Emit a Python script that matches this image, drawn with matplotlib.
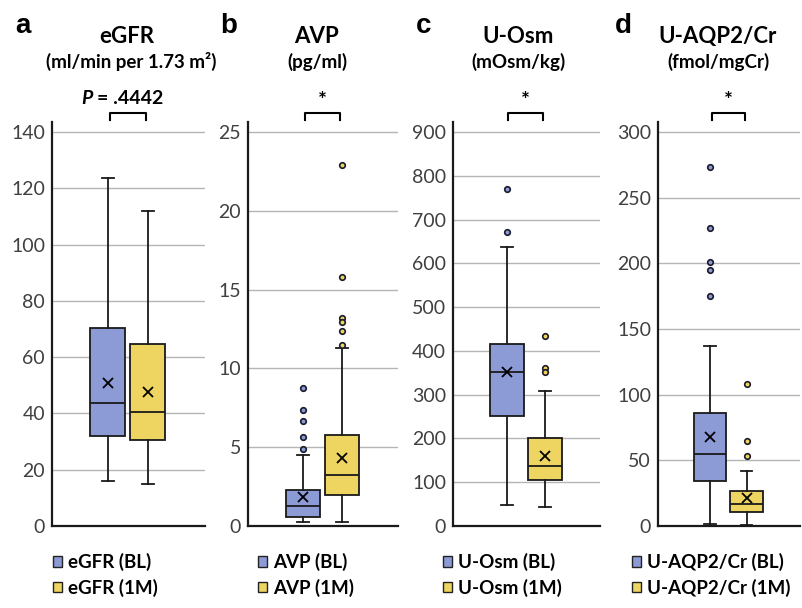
import matplotlib
matplotlib.use('Agg')
import matplotlib.pyplot as plt
from matplotlib.patches import Patch

# ── data ──────────────────────────────────────────────────────────────────────
names = ['eGFR', 'AVP', 'U-Osm', 'U-AQP2/Cr']
units = ['(ml/min per 1.73 m²)', '(pg/ml)', '(mOsm/kg)', '(fmol/mgCr)']
letters = ['a', 'b', 'c', 'd']
sig = ['P = .4442', '*', '*', '*']
ymax = [140, 25, 900, 300]
ystep = [20, 5, 100, 50]

# baseline (BL)
bl_lo = [16.1, 0.28, 49, 1.8]
bl_q1 = [32.1, 0.55, 251, 34.0]
bl_med = [43.8, 1.27, 352, 54.6]
bl_q3 = [70.4, 2.27, 415, 85.9]
bl_hi = [123.5, 4.49, 638, 137.4]
bl_mean = [50.7, 1.82, 352, 68.0]
bl_out = [[], [8.78, 7.39, 6.67, 5.67, 4.87], [769, 672], [273, 227, 201, 195, 175]]

# one month (1M)
m1_lo = [15.1, 0.28, 44, 1.0]
m1_q1 = [30.4, 1.99, 106, 10.9]
m1_med = [40.6, 3.22, 137, 16.5]
m1_q3 = [64.7, 5.76, 201, 26.4]
m1_hi = [112.1, 11.28, 308, 41.9]
m1_mean = [47.7, 4.32, 159, 21.0]
m1_out = [[], [22.9, 15.79, 13.2, 12.95, 12.4, 11.5], [434, 361, 352], [108.5, 65, 53.3]]

c_bl = '#8C9AD6'
c_1m = '#EED460'

W, H = 802, 608
ax_px = [(52, 205), (248, 398), (453, 600), (658, 800)]
title_x = [127, 317, 518, 718]
letter_x = [23, 229, 424, 623]
legend_x = [53, 258, 443, 632]
ax_top, ax_bot, tick_top = 122, 526, 132

fig = plt.figure(figsize=(W / 100, H / 100), dpi=100)
font = 'Lato'

for i in range(4):
    x0, x1 = ax_px[i]
    ax = fig.add_axes([x0 / W, 1 - ax_bot / H, (x1 - x0) / W, (ax_bot - ax_top) / H])
    stats = [
        dict(whislo=bl_lo[i], q1=bl_q1[i], med=bl_med[i], q3=bl_q3[i], whishi=bl_hi[i],
             mean=bl_mean[i], fliers=bl_out[i]),
        dict(whislo=m1_lo[i], q1=m1_q1[i], med=m1_med[i], q3=m1_q3[i], whishi=m1_hi[i],
             mean=m1_mean[i], fliers=m1_out[i]),
    ]
    pos = [0.365, 0.625]
    bp = ax.bxp(stats, positions=pos, widths=0.23, capwidths=0.08, patch_artist=True,
                showmeans=True,
                boxprops=dict(edgecolor='#1a1a1a', linewidth=1.3),
                medianprops=dict(color='#1a1a1a', linewidth=1.3),
                whiskerprops=dict(color='#1a1a1a', linewidth=1.3),
                capprops=dict(color='#1a1a1a', linewidth=1.3),
                meanprops=dict(marker='x', markeredgecolor='black', markersize=6.5,
                               markeredgewidth=1.3),
                flierprops=dict(marker='o', markersize=4, markeredgecolor='#1a1a2a',
                                markeredgewidth=1.2))
    for patch, fc in zip(bp['boxes'], [c_bl, c_1m]):
        patch.set_facecolor(fc)
    for fl, fc in zip(bp['fliers'], [c_bl, c_1m]):
        fl.set_markerfacecolor(fc)
    for art in bp['boxes'] + bp['medians'] + bp['whiskers'] + bp['caps'] + bp['means'] + bp['fliers']:
        art.set_zorder(3)

    ax.set_xlim(0, 1)
    ax.set_ylim(0, ymax[i] * (ax_bot - ax_top) / (ax_bot - tick_top))
    ax.set_yticks(range(0, ymax[i] + 1, ystep[i]))
    ax.set_xticks([])
    ax.tick_params(axis='y', length=0, pad=5, labelsize=14, labelcolor='#404040')
    for lab in ax.get_yticklabels():
        lab.set_fontfamily(font)
    ax.grid(axis='y', color='#b5b5b5', linewidth=1.0, zorder=0)
    ax.set_axisbelow(True)
    for s in ['top', 'right']:
        ax.spines[s].set_visible(False)
    ax.spines['left'].set_linewidth(1.6)
    ax.spines['bottom'].set_linewidth(1.6)
    ax.spines['left'].set_color('#1a1a1a')
    ax.spines['bottom'].set_color('#1a1a1a')

    # significance bracket
    ya, yb = 1 + (ax_top - 113) / (ax_bot - ax_top), 1 + (ax_top - 120) / (ax_bot - ax_top)
    xa, xb = pos[0] + 0.012, pos[1] - 0.012
    ax.plot([xa, xa, xb, xb], [yb, ya, ya, yb], color='black', lw=1.5,
            transform=ax.get_xaxis_transform(), clip_on=False)

    # titles
    fig.text(letter_x[i] / W, 1 - 33 / H, letters[i], ha='center', va='baseline',
             fontsize=20, fontweight='bold', family='Liberation Sans')
    fig.text(title_x[i] / W, 1 - 43 / H, names[i], ha='center', va='baseline',
             fontsize=16, fontweight='bold', family=font)
    fig.text((title_x[i] + (4 if i == 0 else 0)) / W, 1 - 68 / H, units[i], ha='center',
             va='baseline', fontsize=13.5, fontweight='bold', family=font)
    if i == 0:
        fig.text(93 / W, 1 - 104 / H, 'P', ha='right', va='baseline', fontsize=14,
                 fontweight='bold', fontstyle='italic', family=font)
        fig.text(97 / W, 1 - 104 / H, '= .4442', ha='left', va='baseline', fontsize=14,
                 fontweight='bold', family=font)
    else:
        fig.text((ax_px[i][0] + (x1 - x0) * 0.495) / W, 1 - 101 / H, sig[i], ha='center',
                 va='center', fontsize=15, fontweight='bold', family=font)

    handles = [Patch(facecolor=c_bl, edgecolor='#222222', linewidth=1.0),
               Patch(facecolor=c_1m, edgecolor='#222222', linewidth=1.0)]
    ax.legend(handles, [f'{names[i]} (BL)', f'{names[i]} (1M)'], loc='upper left',
              bbox_to_anchor=(legend_x[i] / W, 1 - 553 / H), bbox_transform=fig.transFigure,
              frameon=False, handlelength=0.5, handleheight=0.5, handletextpad=0.3,
              labelspacing=0.4, borderpad=0, borderaxespad=0,
              prop=dict(family=font, weight='bold', size=13.5))

fig.savefig('out.png', dpi=100)
